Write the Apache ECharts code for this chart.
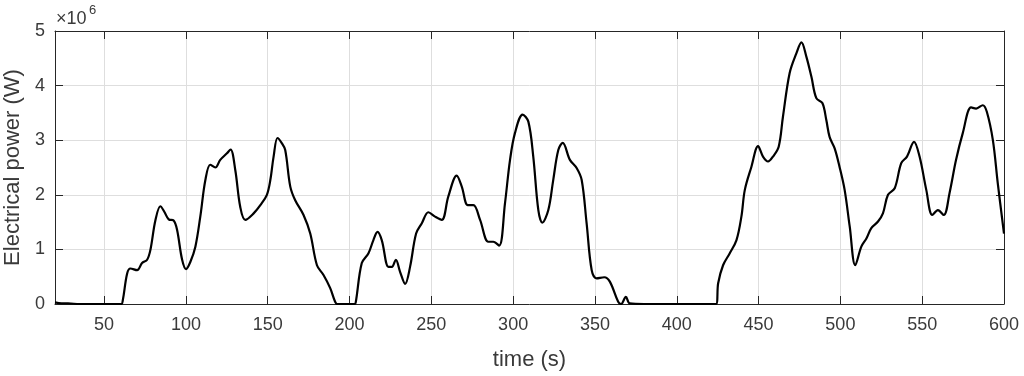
<!DOCTYPE html>
<html>
<head>
<meta charset="utf-8">
<script src="https://cdn.jsdelivr.net/npm/echarts@6/dist/echarts.min.js"></script>
<style>
html,body{margin:0;padding:0;background:#fff;}
#c{width:1024px;height:376px;}
</style>
</head>
<body>
<div id="c"></div>
<script>
// time (s)
var timeS = [20,24,28,35,45,55,60.5,61.5,64.1,66.1,70.2,73.2,76.3,78.3,81.4,84.4,86.8,89.5,92.5,94.6,97.7,100.1,102.7,105.8,108.8,111.9,114.9,118,121,125.1,127.3,130.2,133.2,136.3,141.4,145.5,149.5,151.6,153.6,156,158.5,160.7,163.8,166.8,171.9,176,180.1,184.1,188.2,191.2,192.5,197,203,203.8,207.5,211.6,214.6,217.1,219.7,223.8,225.9,228.3,230.9,234,237,240.7,244.2,248.2,252.3,256.4,260.4,265.5,268.6,272.3,275.7,279.8,284.8,287.9,291.5,295,298.1,301.1,305.8,309.3,312.3,315.4,317.8,321.5,324.5,327.6,330.3,334.7,338.8,341.9,344.9,348,351,355.7,359.1,364.2,366,368.9,371.3,380,395,410,424,425.3,428.3,432.4,436.5,439.5,441.6,445.6,449.7,452.7,455.8,458.8,462.3,464.9,469,473.1,476.2,479.2,482.3,485.3,489,491.4,493.4,496.5,499.5,502.6,505.7,509.1,512.8,515.9,518.9,523,526,529.1,533.2,537.2,540.7,545,548.4,552.5,556.2,559.6,563.2,566.7,570.7,574.8,579.9,583,587,589.5,593.2,596.2,600];
// electrical power (x10^6 W)
var powerMW = [0.03,0.01,0.01,0.0,0.0,0.0,0.0,0.08,0.56,0.65,0.62,0.75,0.81,0.99,1.54,1.79,1.69,1.55,1.53,1.36,0.81,0.64,0.77,1.05,1.60,2.27,2.55,2.50,2.64,2.76,2.83,2.45,1.78,1.54,1.66,1.81,2.0,2.27,2.70,3.04,2.95,2.82,2.15,1.90,1.63,1.29,0.71,0.53,0.29,0.04,0.0,0.0,0.0,0.03,0.75,0.93,1.17,1.32,1.17,0.68,0.68,0.81,0.59,0.37,0.68,1.29,1.48,1.68,1.60,1.54,1.97,2.35,2.15,1.81,1.81,1.54,1.14,1.14,1.07,1.84,2.64,3.13,3.47,3.34,2.70,1.72,1.49,1.72,2.27,2.82,2.95,2.64,2.49,2.27,1.48,0.62,0.47,0.49,0.41,0.04,0.0,0.13,0.01,0.0,0.0,0.0,0.0,0.38,0.71,0.93,1.17,1.60,2.09,2.51,2.89,2.70,2.61,2.70,2.88,3.43,4.23,4.59,4.79,4.53,4.16,3.77,3.68,3.37,3.06,2.85,2.51,2.09,1.42,0.71,1.05,1.20,1.39,1.51,1.66,2.0,2.12,2.58,2.70,2.97,2.70,2.09,1.63,1.72,1.63,2.03,2.64,3.13,3.60,3.58,3.64,3.52,3.0,2.21,1.29];
var xTicks = [50,100,150,200,250,300,350,400,450,500,550,600];
var yTicks = [0,1,2,3,4,5];
var xTitle = 'time (s)';
var yTitle = 'Electrical power (W)';
var exponentBase = '\u00d710';
var exponent = '6';

var data = timeS.map(function(t,i){return [t, powerMW[i]];});
var chart = echarts.init(document.getElementById('c'), null, {renderer:'canvas'});
var axisColor = '#262626';
var textColor = '#3a3a3a';
var gridColor = '#dedede';
var font = 'Liberation Sans, Arial, sans-serif';
function tick(vals){return {show:true, inside:true, length:8, customValues:vals, lineStyle:{color:axisColor,width:1}};}
chart.setOption({
  animation:false,
  backgroundColor:'#fff',
  grid:{left:55,right:20,top:31,bottom:72,containLabel:false,outerBoundsMode:'none'},
  xAxis:[{
    type:'value', min:20, max:600, position:'bottom',
    name:xTitle, nameLocation:'middle', nameGap:45,
    nameTextStyle:{color:textColor,fontSize:22,fontFamily:font},
    axisLine:{show:true,onZero:false,lineStyle:{color:axisColor,width:1}},
    axisTick:tick(xTicks),
    axisLabel:{color:textColor,fontSize:18,fontFamily:font,margin:12,customValues:xTicks},
    splitLine:{show:true,lineStyle:{color:gridColor,width:1}}
  },{
    type:'value', min:20, max:600, position:'top',
    axisLine:{show:true,onZero:false,lineStyle:{color:axisColor,width:1}},
    axisTick:tick(xTicks),
    axisLabel:{show:false,customValues:xTicks},
    splitLine:{show:false}
  }],
  yAxis:[{
    type:'value', min:0, max:5, interval:1, position:'left',
    name:yTitle, nameLocation:'middle', nameGap:29, nameRotate:90,
    nameTextStyle:{color:textColor,fontSize:22,fontFamily:font},
    axisLine:{show:true,onZero:false,lineStyle:{color:axisColor,width:1}},
    axisTick:tick(yTicks),
    axisLabel:{color:textColor,fontSize:18,fontFamily:font,margin:10,customValues:yTicks},
    splitLine:{show:true,lineStyle:{color:gridColor,width:1}}
  },{
    type:'value', min:0, max:5, interval:1, position:'right',
    axisLine:{show:true,onZero:false,lineStyle:{color:axisColor,width:1}},
    axisTick:tick(yTicks),
    axisLabel:{show:false},
    splitLine:{show:false}
  }],
  series:[{
    type:'line', data:data, xAxisIndex:0, yAxisIndex:0,
    showSymbol:false, smooth:0.35,
    lineStyle:{color:'#000',width:2.2},
    z:5
  }],
  graphic:[{
    type:'text', left:56, top:10,
    style:{text:exponentBase, fontSize:18, fontFamily:font, fill:textColor}
  },{
    type:'text', left:89, top:4,
    style:{text:exponent, fontSize:13, fontFamily:font, fill:textColor}
  }]
});
</script>
</body>
</html>
